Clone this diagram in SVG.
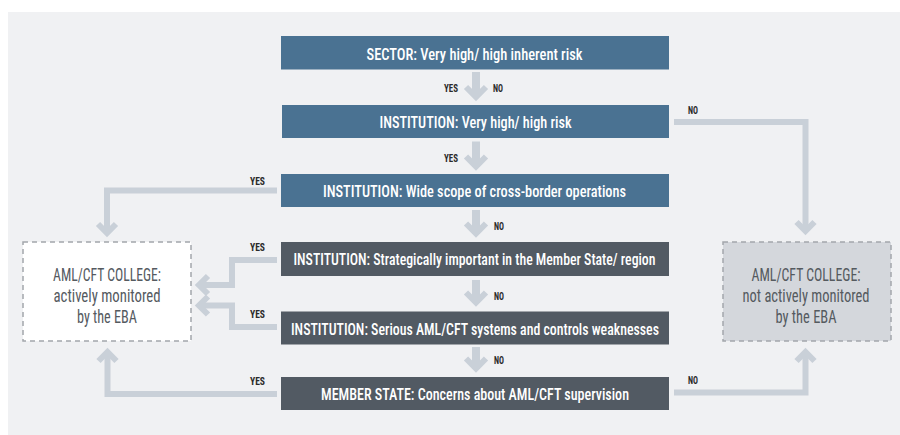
<svg xmlns="http://www.w3.org/2000/svg" width="900" height="435" viewBox="0 0 900 435">
<style>
.panel{fill:#f0f1f3}
.blue{fill:#4a7292}
.dark{fill:#525a63}
.btxt{font-family:"Roboto Condensed","DejaVu Sans Condensed","Liberation Sans Narrow",Roboto,sans-serif;font-size:17px;font-weight:500;fill:#ffffff;text-anchor:middle}
.lbl{font-family:"Roboto Condensed","DejaVu Sans Condensed","Liberation Sans Narrow",Roboto,sans-serif;font-size:10.5px;font-weight:700;fill:#2a2a2a}
.otxt{font-family:"Roboto Condensed","DejaVu Sans Condensed","Liberation Sans Narrow",Roboto,sans-serif;font-size:18px;fill:#555a5f;text-anchor:middle}
.conn{fill:none;stroke:#c9d0d8;stroke-width:6;stroke-linejoin:miter;stroke-linecap:butt}
.shaft{fill:none;stroke:#c9d0d8;stroke-width:8}
.head{fill:none;stroke:#c9d0d8;stroke-width:6;stroke-linejoin:miter;stroke-miterlimit:10}
</style>
<rect class="panel" x="8" y="12" width="892" height="423"/>

<g id="connectors">
  <line class="shaft" x1="476" y1="72" x2="476" y2="97"/>
  <polyline class="head" points="466,87 476,97 486,87"/>
  <line class="shaft" x1="476" y1="141.5" x2="476" y2="166.5"/>
  <polyline class="head" points="466,156.5 476,166.5 486,156.5"/>
  <line class="shaft" x1="476" y1="210" x2="476" y2="233.5"/>
  <polyline class="head" points="466,223.5 476,233.5 486,223.5"/>
  <line class="shaft" x1="476" y1="280" x2="476" y2="302.5"/>
  <polyline class="head" points="466,292.5 476,302.5 486,292.5"/>
  <line class="shaft" x1="476" y1="347" x2="476" y2="368.5"/>
  <polyline class="head" points="466,358.5 476,368.5 486,358.5"/>
  <path class="conn" d="M277,190.5 H107 V233"/>
  <polyline class="head" points="98,224 107,233 116,224"/>
  <path class="conn" d="M277,260 H232 V285 H199"/>
  <polyline class="head" points="208,276 199,285 208,294"/>
  <path class="conn" d="M277,327 H232 V305.5 H199"/>
  <polyline class="head" points="208,296.5 199,305.5 208,314.5"/>
  <path class="conn" d="M277,394 H107.5 V352"/>
  <polyline class="head" points="98.5,361 107.5,352 116.5,361"/>
  <path class="conn" d="M674,122 H805.5 V231"/>
  <polyline class="head" points="796.5,222 805.5,231 814.5,222"/>
  <path class="conn" d="M674,392.5 H805.5 V352"/>
  <polyline class="head" points="796.5,361 805.5,352 814.5,361"/>
  <text class="lbl" x="444" y="92" textLength="14" lengthAdjust="spacingAndGlyphs">YES</text>
  <text class="lbl" x="493" y="92" textLength="10" lengthAdjust="spacingAndGlyphs">NO</text>
  <text class="lbl" x="444" y="161.5" textLength="14" lengthAdjust="spacingAndGlyphs">YES</text>
  <text class="lbl" x="688" y="113.5" textLength="10" lengthAdjust="spacingAndGlyphs">NO</text>
  <text class="lbl" x="250" y="185" textLength="15" lengthAdjust="spacingAndGlyphs">YES</text>
  <text class="lbl" x="494" y="230" textLength="10" lengthAdjust="spacingAndGlyphs">NO</text>
  <text class="lbl" x="250" y="250.5" textLength="15" lengthAdjust="spacingAndGlyphs">YES</text>
  <text class="lbl" x="494" y="299.5" textLength="10" lengthAdjust="spacingAndGlyphs">NO</text>
  <text class="lbl" x="250" y="317.5" textLength="15" lengthAdjust="spacingAndGlyphs">YES</text>
  <text class="lbl" x="494" y="363.5" textLength="10" lengthAdjust="spacingAndGlyphs">NO</text>
  <text class="lbl" x="250" y="385" textLength="15" lengthAdjust="spacingAndGlyphs">YES</text>
  <text class="lbl" x="688" y="383.5" textLength="10" lengthAdjust="spacingAndGlyphs">NO</text>
</g>

<g id="sector">
  <rect class="blue" x="281" y="36" width="388" height="33.5"/>
  <text class="btxt" x="474.5" y="59.5" textLength="216" lengthAdjust="spacingAndGlyphs">SECTOR: Very high/ high inherent risk</text>
</g>
<g id="inst-risk">
  <rect class="blue" x="282" y="105" width="387" height="33"/>
  <text class="btxt" x="475.5" y="128" textLength="192" lengthAdjust="spacingAndGlyphs">INSTITUTION: Very high/ high risk</text>
</g>
<g id="inst-scope">
  <rect class="blue" x="281" y="174" width="388" height="33"/>
  <text class="btxt" x="474.5" y="197" textLength="303" lengthAdjust="spacingAndGlyphs">INSTITUTION: Wide scope of cross-border operations</text>
</g>
<g id="inst-strategic">
  <rect class="dark" x="281" y="242" width="388" height="34"/>
  <text class="btxt" x="474.5" y="265" textLength="362" lengthAdjust="spacingAndGlyphs">INSTITUTION: Strategically important in the Member State/ region</text>
</g>
<g id="inst-weak">
  <rect class="dark" x="281" y="311.5" width="388" height="33"/>
  <text class="btxt" x="475" y="334.5" textLength="368" lengthAdjust="spacingAndGlyphs">INSTITUTION: Serious AML/CFT systems and controls weaknesses</text>
</g>
<g id="member-state">
  <rect class="dark" x="281" y="377" width="388" height="33"/>
  <text class="btxt" x="475" y="400" textLength="308" lengthAdjust="spacingAndGlyphs">MEMBER STATE: Concerns about AML/CFT supervision</text>
</g>
<g id="college-active">
  <rect x="23" y="242" width="168" height="99" fill="#ffffff" stroke="#a3a7ac" stroke-width="1.5" stroke-dasharray="5,4"/>
  <text class="otxt" x="107" y="281" textLength="108" lengthAdjust="spacingAndGlyphs">AML/CFT COLLEGE:</text>
  <text class="otxt" x="107" y="302" textLength="107" lengthAdjust="spacingAndGlyphs">actively monitored</text>
  <text class="otxt" x="107" y="323" textLength="60" lengthAdjust="spacingAndGlyphs">by the EBA</text>
</g>
<g id="college-passive">
  <rect x="723" y="242" width="168" height="99" fill="#d4d7dc" stroke="#a3a7ac" stroke-width="1.5" stroke-dasharray="5,4"/>
  <text class="otxt" x="806" y="280.5" textLength="109" lengthAdjust="spacingAndGlyphs">AML/CFT COLLEGE:</text>
  <text class="otxt" x="806" y="301.5" textLength="127" lengthAdjust="spacingAndGlyphs">not actively monitored</text>
  <text class="otxt" x="806" y="322.5" textLength="61" lengthAdjust="spacingAndGlyphs">by the EBA</text>
</g>
</svg>
